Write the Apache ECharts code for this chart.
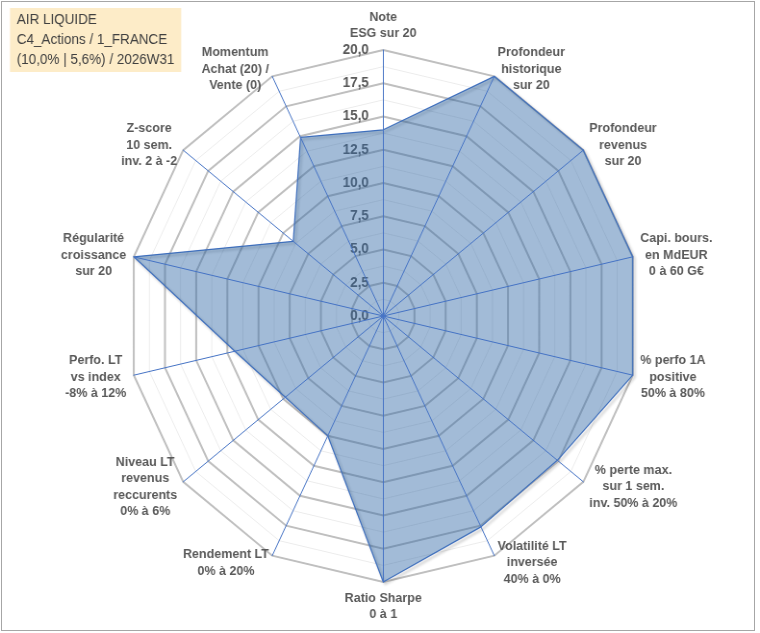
<!DOCTYPE html>
<html>
<head>
<meta charset="utf-8">
<script src="https://cdn.jsdelivr.net/npm/echarts@6/dist/echarts.min.js"></script>
<style>
  html, body { margin: 0; padding: 0; background: #fff; }
  #wrap { position: relative; width: 760px; height: 633px; overflow: hidden; }
  #frame { position: absolute; left: 1px; top: 1px; width: 752px; height: 628px; border: 1px solid #a6a6a6; }
  /* the reference is slightly squeezed horizontally */
  #main { position: absolute; left: 0; top: 0; width: 790px; height: 633px; transform: scaleX(0.962); transform-origin: 0 0; }
</style>
</head>
<body>
<div id="wrap">
  <div id="frame"></div>
  <div id="main"></div>
</div>
<script>
// libellés des axes (sens horaire depuis le haut)
var criteres = [
    "Note\nESG sur 20",
    "Profondeur\nhistorique\nsur 20",
    "Profondeur\nrevenus\nsur 20",
    "Capi. bours.\nen MdEUR\n0 à 60 G€",
    "% perfo 1A\npositive\n50% à 80%",
    "% perte max.\nsur 1 sem.\ninv. 50% à 20%",
    "Volatilité LT\ninversée\n40% à 0%",
    "Ratio Sharpe\n0 à 1",
    "Rendement LT\n0% à 20%",
    "Niveau LT\nrevenus\nreccurents\n0% à 6%",
    "Perfo. LT\nvs index\n-8% à 12%",
    "Régularité\ncroissance\nsur 20",
    "Z-score\n10 sem.\ninv. 2 à -2",
    "Momentum\nAchat (20) /\nVente (0)"
];
// notes sur 20
var notes = [14.0, 20, 20, 20, 20, 17.4, 17.6, 20, 10.0, 9.8, 11.9, 20, 9.0, 14.9];
var noteMax = 20;
var titre = ["AIR LIQUIDE", "C4_Actions / 1_FRANCE", "(10,0% | 5,6%) / 2026W31"];

var police = 'Arial, "Liberation Sans", sans-serif';

// echarts place les axes dans le sens anti-horaire : on inverse après le premier
var ordre = [0];
for (var i = criteres.length - 1; i > 0; i--) ordre.push(i);

var indicateurs = ordre.map(function (k, n) {
    var ind = { name: criteres[k], min: 0, max: noteMax };
    if (n === 0) {
        ind.axisLabel = {
            show: true,
            margin: 15,
            fontFamily: police,
            fontWeight: 700,
            fontSize: 14,
            color: '#595959',
            formatter: function (v) { return v.toFixed(1).replace('.', ','); }
        };
    }
    return ind;
});
var valeurs = ordre.map(function (k) { return notes[k]; });

var centre = [398.4, 316];
var rayon = 266;

var myChart = echarts.init(document.getElementById('main'));
var option = {
    animation: false,
    title: {
        text: titre.join('\n'),
        left: 10.4,
        top: 8,
        padding: [2, 7, 2, 7],
        backgroundColor: '#fdecc8',
        textStyle: {
            fontFamily: police,
            fontWeight: 'normal',
            fontSize: 14,
            lineHeight: 20,
            color: '#404040'
        }
    },
    radar: [
        {
            // graduations secondaires
            center: centre, radius: rayon, shape: 'polygon',
            splitNumber: 16,
            indicator: ordre.map(function () { return { name: '', min: 0, max: noteMax }; }),
            axisName: { show: false },
            axisLine: { show: false },
            axisLabel: { show: false },
            splitArea: { show: false },
            splitLine: { lineStyle: { color: '#ececec', width: 1 } }
        },
        {
            center: centre, radius: rayon, shape: 'polygon',
            splitNumber: 8,
            indicator: indicateurs,
            nameGap: 8,
            axisName: {
                fontFamily: police,
                fontWeight: 700,
                fontSize: 13,
                color: '#595959',
                formatter: function (txt) {
                    return txt.split('\n').map(function (l) { return '{c|' + l + '}'; }).join('\n');
                },
                rich: {
                    c: {
                        align: 'center',
                        fontFamily: police,
                        fontWeight: 700,
                        fontSize: 13,
                        lineHeight: 16.5,
                        color: '#595959'
                    }
                }
            },
            axisLine: { show: false },
            axisLabel: { show: false },
            splitArea: { show: false },
            splitLine: { lineStyle: { color: '#bfbfbf', width: 2 } }
        },
        {
            // rayons bleus par-dessus la surface
            center: centre, radius: rayon, shape: 'polygon', z: 5,
            indicator: ordre.map(function () { return { name: '', min: 0, max: noteMax }; }),
            axisName: { show: false },
            axisLine: { lineStyle: { color: '#4472c4', width: 1 } },
            axisLabel: { show: false },
            splitArea: { show: false },
            splitLine: { show: false }
        }
    ],
    series: [{
        type: 'radar',
        radarIndex: 1,
        symbol: 'none',
        data: [{
            value: valeurs,
            lineStyle: {
                color: '#4472c4', width: 1.2,
                shadowColor: 'rgba(0,0,0,0.35)', shadowBlur: 3, shadowOffsetX: 2, shadowOffsetY: 2
            },
            areaStyle: { color: 'rgba(51,106,168,0.65)' }
        }]
    }]
};
myChart.setOption(option);
</script>
</body>
</html>
